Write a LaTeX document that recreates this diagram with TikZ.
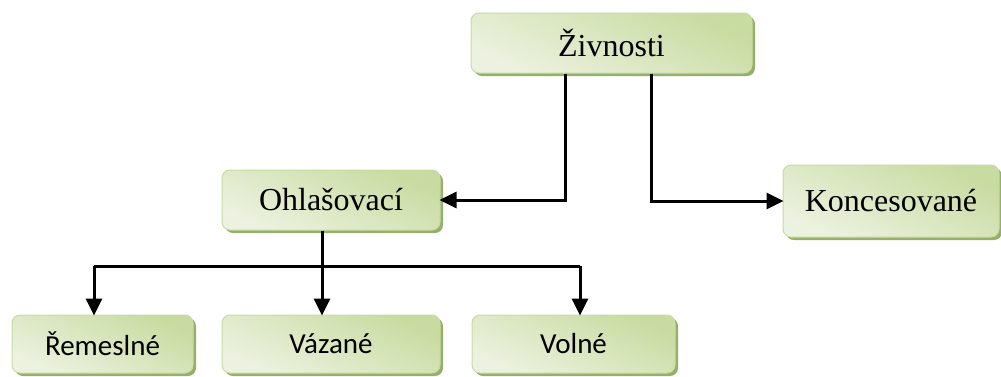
\documentclass[tikz,border=0pt]{standalone}
\usepackage{fontspec}
\setmainfont{Liberation Serif}
\newfontfamily\calib{Carlito}
\usetikzlibrary{arrows.meta,shadows,calc}
\definecolor{gtop}{RGB}{200,219,160}
\definecolor{gbot}{RGB}{236,242,224}
\definecolor{gedge}{RGB}{200,218,164}
\definecolor{gshadow}{RGB}{150,176,106}
\tikzset{
  box/.style={rounded corners=8pt, draw=gedge, line width=1pt,
    top color=gtop, bottom color=gbot, shading angle=-25,
    general shadow={fill=gshadow, shadow xshift=3pt, shadow yshift=-3pt, rounded corners=8pt},
    inner sep=0pt, anchor=center},
  serifbox/.style={box, font=\fontsize{32}{38}\selectfont},
  sansbox/.style={box, font=\calib\fontsize{29}{34}\selectfont},
  conn/.style={line width=3pt, draw=black},
  arr/.style={conn, -{Triangle[length=17pt,width=16pt]}, shorten >=-1pt}
}
\begin{document}
\begin{tikzpicture}[x=1pt,y=-1pt]
\useasboundingbox (0,0) rectangle (1001,376);
\node[serifbox, minimum width=281pt, minimum height=60pt] (zv) at (611.5,43) {Živnosti};
\node[serifbox, minimum width=218pt, minimum height=60pt] (oh) at (331,200) {Ohlašovací};
\node[serifbox, minimum width=216pt, minimum height=72pt] (ko) at (891,201) {Koncesované};
\node[sansbox, minimum width=181pt, minimum height=58pt] (re) at (102.5,344) {Řemeslné};
\node[sansbox, minimum width=218pt, minimum height=58pt] (va) at (331,344) {Vázané};
\node[sansbox, minimum width=203pt, minimum height=58pt] (vo) at (573.5,344) {Volné};
% connectors from top
\coordinate (zl) at (565,0);
\coordinate (zr) at (651,0);
\draw[arr] (zl |- zv.south) |- (oh.east);
\draw[arr] (zr |- zv.south) |- (ko.west);
% bottom branch
\coordinate (om) at (322,0);
\coordinate (b1) at (94,266);
\coordinate (b2) at (580,266);
\draw[conn] (b1) -- (b2);
\draw[arr] (om |- oh.south) -- (om |- va.north);
\draw[arr] (b1) -- (b1 |- re.north);
\draw[arr] (b2) -- (b2 |- vo.north);
\end{tikzpicture}
\end{document}
